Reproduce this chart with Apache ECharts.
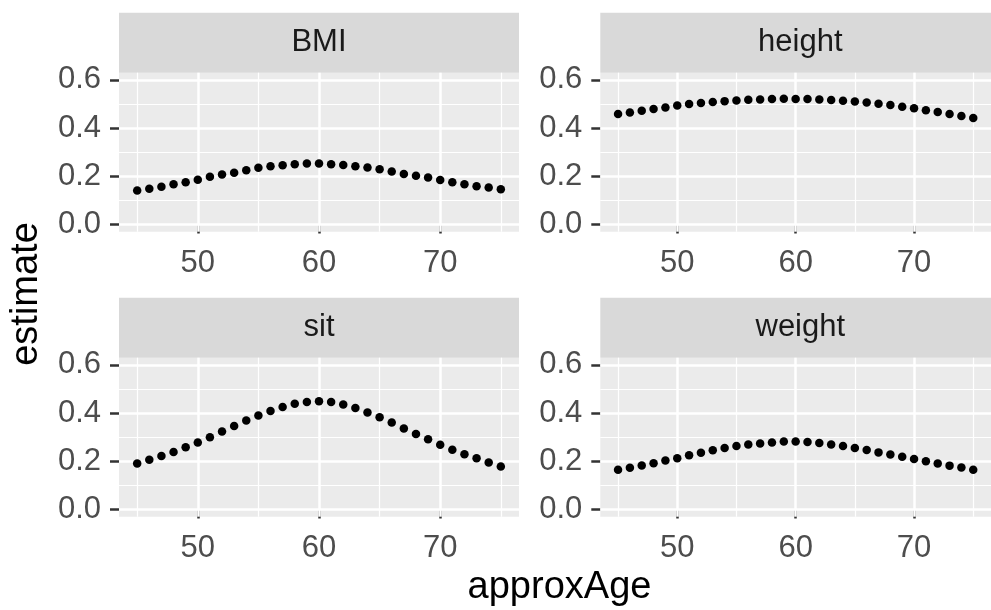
<!DOCTYPE html>
<html>
<head>
<meta charset="utf-8">
<script src="https://cdn.jsdelivr.net/npm/echarts@6/dist/echarts.min.js"></script>
<style>
html,body{margin:0;padding:0;background:#ffffff;}
#chart{width:991px;height:610px;}
</style>
</head>
<body>
<div id="chart"></div>
<script>
// ---- data ----
const ages = [45,46,47,48,49,50,51,52,53,54,55,56,57,58,59,60,61,62,63,64,65,66,67,68,69,70,71,72,73,74,75];
const bmi = [0.141,0.148,0.157,0.167,0.175,0.186,0.198,0.207,0.215,0.225,0.235,0.242,0.246,0.250,0.253,0.253,0.250,0.247,0.242,0.236,0.229,0.220,0.210,0.202,0.195,0.185,0.175,0.167,0.159,0.153,0.146];
const height = [0.459,0.465,0.472,0.479,0.486,0.494,0.500,0.504,0.508,0.512,0.515,0.518,0.519,0.521,0.522,0.521,0.521,0.519,0.517,0.514,0.510,0.506,0.501,0.496,0.489,0.482,0.474,0.467,0.459,0.450,0.442];
const sit = [0.191,0.206,0.222,0.239,0.258,0.278,0.300,0.324,0.346,0.369,0.390,0.409,0.425,0.439,0.446,0.449,0.446,0.436,0.421,0.403,0.383,0.361,0.336,0.313,0.291,0.269,0.248,0.229,0.213,0.195,0.178];
const weight = [0.165,0.173,0.183,0.192,0.203,0.213,0.225,0.235,0.246,0.255,0.263,0.270,0.274,0.278,0.282,0.282,0.280,0.276,0.270,0.263,0.255,0.247,0.237,0.228,0.219,0.210,0.200,0.191,0.182,0.174,0.165];
const panelNames = ['BMI','height','sit','weight'];
const panelValues = [bmi, height, sit, weight];
const xTickValues = [50,60,70];
const xMinorValues = [45,55,65,75];
const yTickValues = [0,0.2,0.4,0.6];
const yMinorValues = [0.1,0.3,0.5];
const xTitle = 'approxAge';
const yTitle = 'estimate';

// ---- layout ----
const FONT = "'Liberation Sans', Arial, Helvetica, sans-serif";
const PW = 400, PH = 159, STRIP_H = 60;
const lefts = [119, 600.3, 119, 600.3];
const tops = [72.7, 72.7, 357.7, 357.7];
const X_MIN = 43.5, X_MAX = 76.5, Y_MIN = -0.03, Y_MAX = 0.63;

const chart = echarts.init(document.getElementById('chart'), null, {renderer:'canvas'});

const grids = [], xAxes = [], yAxes = [], series = [], graphics = [];

panelNames.forEach((name, i) => {
  grids.push({
    left: lefts[i], top: tops[i], width: PW, height: PH,
    show: true, backgroundColor: '#EBEBEB', borderWidth: 0
  });
  xAxes.push({
    gridIndex: i, type: 'value', min: X_MIN, max: X_MAX,
    axisLine: {show: false},
    axisTick: {show: true, length: 9, customValues: xTickValues, lineStyle: {color: '#333333', width: 2.5}},
    axisLabel: {show: true, customValues: xTickValues, margin: 16, color: '#4D4D4D', fontSize: 31, fontFamily: FONT,
      formatter: v => String(v)},
    splitLine: {show: false}
  });
  yAxes.push({
    gridIndex: i, type: 'value', min: Y_MIN, max: Y_MAX,
    axisLine: {show: false},
    axisTick: {show: true, length: 9, customValues: yTickValues, lineStyle: {color: '#333333', width: 2.5}},
    axisLabel: {show: true, customValues: yTickValues, margin: 18, color: '#4D4D4D', fontSize: 31, fontFamily: FONT,
      formatter: v => Number(v).toFixed(1)},
    splitLine: {show: false}
  });
  const gridLines = [];
  xMinorValues.forEach(v => gridLines.push({xAxis: v, lineStyle: {color: '#FFFFFF', width: 1.2, type: 'solid'}}));
  yMinorValues.forEach(v => gridLines.push({yAxis: v, lineStyle: {color: '#FFFFFF', width: 1.2, type: 'solid'}}));
  xTickValues.forEach(v => gridLines.push({xAxis: v, lineStyle: {color: '#FFFFFF', width: 2.5, type: 'solid'}}));
  yTickValues.forEach(v => gridLines.push({yAxis: v, lineStyle: {color: '#FFFFFF', width: 2.5, type: 'solid'}}));
  series.push({
    type: 'scatter', name: name, xAxisIndex: i, yAxisIndex: i,
    data: ages.map((a, j) => [a, panelValues[i][j]]),
    symbol: 'circle', symbolSize: 8.5,
    itemStyle: {color: '#000000', opacity: 1},
    z: 10, silent: true,
    markLine: {
      silent: true, z: 1, animation: false,
      symbol: ['none', 'none'],
      label: {show: false},
      emphasis: {disabled: true},
      data: gridLines
    }
  });
  // strip
  graphics.push({
    type: 'rect', silent: true,
    shape: {x: lefts[i], y: tops[i] - STRIP_H, width: PW, height: STRIP_H},
    style: {fill: '#D9D9D9'}
  });
  graphics.push({
    type: 'text', silent: true,
    x: lefts[i] + PW / 2, y: tops[i] - STRIP_H / 2,
    style: {text: name, fill: '#1A1A1A', font: '31px ' + FONT,
      textAlign: 'center', textVerticalAlign: 'middle', align: 'center', verticalAlign: 'middle'}
  });
});

graphics.push({
  type: 'text', silent: true, x: 559.5, y: 588,
  style: {text: xTitle, fill: '#000000', font: '38px ' + FONT,
    textAlign: 'center', textVerticalAlign: 'middle', align: 'center', verticalAlign: 'middle'}
});
graphics.push({
  type: 'text', silent: true, x: 27, y: 294, rotation: Math.PI / 2,
  style: {text: yTitle, fill: '#000000', font: '38px ' + FONT,
    textAlign: 'center', textVerticalAlign: 'middle', align: 'center', verticalAlign: 'middle'}
});

chart.setOption({
  animation: false,
  backgroundColor: '#FFFFFF',
  grid: grids,
  xAxis: xAxes,
  yAxis: yAxes,
  series: series,
  graphic: {elements: graphics}
});
</script>
</body>
</html>
